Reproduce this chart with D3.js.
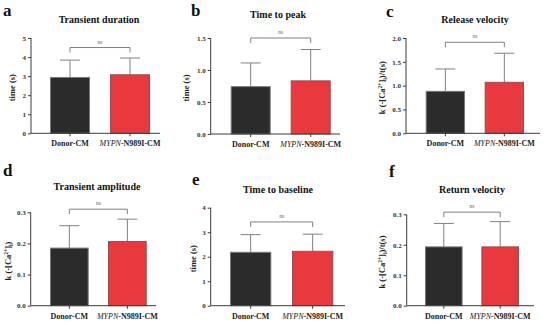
<!DOCTYPE html>
<html>
<head>
<meta charset="utf-8">
<script src="https://cdn.jsdelivr.net/npm/d3@7"></script>
<style>
  html, body { margin: 0; padding: 0; background: #fff; }
  svg { display: block; }
</style>
</head>
<body>
<svg id="chart" width="550" height="325"></svg>
<script>
// Calcium transient parameters, Donor-CM vs MYPN-N989I-CM (mean + SD)
const groups = ["Donor-CM", "MYPN-N989I-CM"]
const panelLetters = ["a", "b", "c", "d", "e", "f"]
const panelTitles = ["Transient duration", "Time to peak", "Release velocity",
  "Transient amplitude", "Time to baseline", "Return velocity"]
const yLabels = ["time (s)", "time (s)", "vel", "amp", "time (s)", "vel"]
const meanValues = [[2.93, 3.07], [0.74, 0.83], [0.88, 1.07], [0.185, 0.206], [2.18, 2.22], [0.193, 0.193]]
const sdValues = [[0.91, 0.88], [0.37, 0.49], [0.47, 0.61], [0.072, 0.072], [0.72, 0.70], [0.077, 0.083]]
const yMax = [5, 1.5, 2, 0.3, 4, 0.3]
const tickStep = [1, 0.5, 0.5, 0.1, 1, 0.1]
const tickFormats = ["d", ".1f", ".1f", ".1f", "d", ".1f"]
const bracketLevel = [4.5, 1.5, 1.91, 0.31, 3.42, 0.307]
const sigLabels = ["ns", "ns", "ns", "ns", "ns", "ns"]

// Layout per panel (page pixels)
const layout = [
  { ax: 31, top: 38, bottom: 133.3, b0: 50, b1: 150, end: 160, tx: 99, ty: 23, lx: 3, ly: 16, yl: 15 },
  { ax: 210.7, top: 38, bottom: 134, b0: 230.7, b1: 330.7, end: 340, tx: 278, ty: 18, lx: 191, ly: 16, yl: 189 },
  { ax: 406, top: 38, bottom: 133.3, b0: 425.7, b1: 524, end: 540, tx: 475, ty: 23, lx: 386, ly: 16.5, yl: 385 },
  { ax: 30.7, top: 212.3, bottom: 305.7, b0: 50, b1: 146.7, end: 156, tx: 97, ty: 190, lx: 3, ly: 176, yl: 11 },
  { ax: 210.7, top: 207.7, bottom: 305.7, b0: 230, b1: 333.3, end: 345, tx: 278, ty: 193, lx: 192, ly: 185, yl: 196 },
  { ax: 406.7, top: 214.3, bottom: 305.7, b0: 425, b1: 519, end: 534, tx: 472, ty: 193, lx: 389, ly: 177, yl: 385 }
]

const barColors = ["#2b2b2b", "#e83a3e"]
const barStroke = ["#777", "#8a5252"]
const axisColor = "#3a3a3a"
const errColor = "#808080"
const serif = "'Liberation Serif', 'DejaVu Serif', serif"

const svg = d3.select("#chart")

panelLetters.forEach((letter, p) => {
  const L = layout[p]
  const g = svg.append("g")

  const x = d3.scaleBand().domain(groups).range([L.b0, L.b1])
    .paddingInner(1 / 3).paddingOuter(0)
  const y = d3.scaleLinear().domain([0, yMax[p]]).range([L.bottom, L.top])

  // panel letter
  g.append("text").attr("x", L.lx).attr("y", L.ly)
    .attr("font-family", serif).attr("font-weight", "bold")
    .attr("font-size", 17).attr("fill", "#111").text(letter)

  // title
  g.append("text").attr("x", L.tx).attr("y", L.ty).attr("text-anchor", "middle")
    .attr("font-family", serif).attr("font-weight", "bold")
    .attr("font-size", 10).attr("fill", "#111").text(panelTitles[p])

  // bars
  groups.forEach((grp, i) => {
    const m = meanValues[p][i], s = sdValues[p][i]
    const cx = x(grp) + x.bandwidth() / 2
    g.append("line").attr("x1", cx).attr("x2", cx)
      .attr("y1", y(m)).attr("y2", y(m + s))
      .attr("stroke", errColor).attr("stroke-width", 1)
    g.append("line").attr("x1", cx - 10).attr("x2", cx + 10)
      .attr("y1", y(m + s)).attr("y2", y(m + s))
      .attr("stroke", errColor).attr("stroke-width", 1)
    g.append("rect").attr("x", x(grp) + 0.5).attr("y", y(m))
      .attr("width", x.bandwidth() - 1).attr("height", y(0) - y(m))
      .attr("fill", barColors[i]).attr("stroke", barStroke[i]).attr("stroke-width", 1)
  })

  // y axis
  const ticks = d3.range(0, yMax[p] + tickStep[p] / 2, tickStep[p])
  const yAxis = g.append("g").attr("transform", `translate(${L.ax},0)`)
    .call(d3.axisLeft(y).tickValues(ticks).tickFormat(d3.format(tickFormats[p]))
      .tickSize(3).tickPadding(2))
  yAxis.select(".domain").attr("stroke", axisColor).attr("d", `M0,${L.top}V${L.bottom}`)
  yAxis.selectAll(".tick line").attr("stroke", axisColor)
  yAxis.selectAll(".tick text").attr("font-family", serif).attr("font-weight", "bold")
    .attr("font-size", 7).attr("fill", "#333")

  // x axis
  const xAxis = g.append("g").attr("transform", `translate(0,${L.bottom})`)
    .call(d3.axisBottom(x).tickSize(3).tickFormat(""))
  xAxis.select(".domain").attr("stroke", axisColor).attr("d", `M${L.ax},0H${L.end}`)
  xAxis.selectAll(".tick line").attr("stroke", axisColor)

  // category labels
  groups.forEach((grp, i) => {
    const t = g.append("text").attr("x", x(grp) + x.bandwidth() / 2).attr("y", L.bottom + 13)
      .attr("text-anchor", "middle").attr("font-family", serif)
      .attr("font-weight", "bold").attr("font-size", 8).attr("fill", "#222")
    if (i === 0) {
      t.text(grp)
    } else {
      const parts = grp.split("-")
      t.append("tspan").attr("font-style", "italic").attr("font-weight", "normal").text(parts[0])
      t.append("tspan").text("-" + parts.slice(1).join("-"))
    }
  })

  // y label
  const yl = g.append("text")
    .attr("transform", `translate(${L.yl},${(L.top + L.bottom) / 2 + 2}) rotate(-90)`)
    .attr("text-anchor", "middle").attr("font-family", serif)
    .attr("font-weight", "bold").attr("font-size", 8.5).attr("fill", "#222")
  if (yLabels[p] === "time (s)") {
    yl.text("time (s)")
  } else {
    yl.append("tspan").text("k (-[Ca")
    yl.append("tspan").attr("font-size", 5.5).attr("dy", -3.5).text("2+")
    yl.append("tspan").attr("dy", 3.5).text("]")
    yl.append("tspan").attr("font-size", 5.5).attr("dy", 1.5).text("i")
    yl.append("tspan").attr("dy", -1.5).text(yLabels[p] === "vel" ? ")/t(s)" : ")")
  }

  // significance bracket
  const c0 = x(groups[0]) + x.bandwidth() / 2
  const c1 = x(groups[1]) + x.bandwidth() / 2
  const by = y(bracketLevel[p])
  g.append("path").attr("d", `M${c0},${by + 5}V${by}H${c1}V${by + 5}`)
    .attr("fill", "none").attr("stroke", errColor).attr("stroke-width", 1)
  g.append("text").attr("x", (c0 + c1) / 2).attr("y", by - 4).attr("text-anchor", "middle")
    .attr("font-family", serif).attr("font-size", 5.5).attr("fill", "#666").text(sigLabels[p])
})
</script>
</body>
</html>
